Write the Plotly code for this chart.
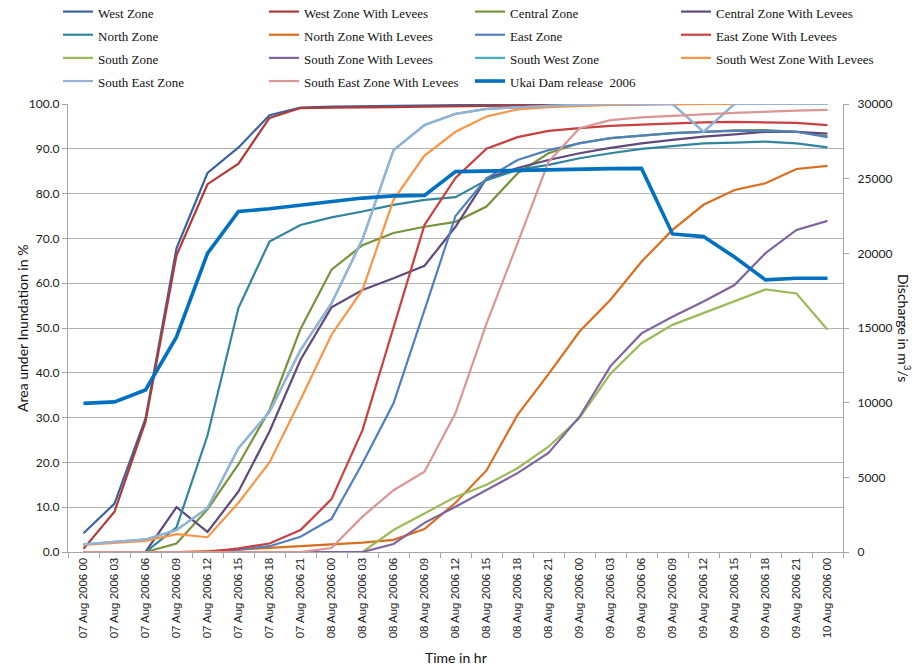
import plotly.graph_objects as go

# Time steps (3-hourly) along the category axis
time_labels = [
    "07 Aug 2006 00", "07 Aug 2006 03", "07 Aug 2006 06", "07 Aug 2006 09",
    "07 Aug 2006 12", "07 Aug 2006 15", "07 Aug 2006 18", "07 Aug 2006 21",
    "08 Aug 2006 00", "08 Aug 2006 03", "08 Aug 2006 06", "08 Aug 2006 09",
    "08 Aug 2006 12", "08 Aug 2006 15", "08 Aug 2006 18", "08 Aug 2006 21",
    "09 Aug 2006 00", "09 Aug 2006 03", "09 Aug 2006 06", "09 Aug 2006 09",
    "09 Aug 2006 12", "09 Aug 2006 15", "09 Aug 2006 18", "09 Aug 2006 21",
    "10 Aug 2006 00",
]

# Area under inundation (%)
west_zone = [4.2, 10.8, 29.8, 67.8, 84.6, 90.3, 97.5, 99.2, 99.4, 99.5, 99.6, 99.7, 99.8,
             99.9, 99.9, 100, 100, 100, 100, 100, 100, 100, 100, 100, 100]
west_levees = [0.7, 9.0, 29.1, 66.2, 82.1, 86.7, 96.9, 99.1, 99.2, 99.2, 99.3, 99.4, 99.5,
               99.6, 99.7, 99.8, 99.8, 99.9, 99.9, 100, 100, 100, 100, 100, 100]
central_zone = [0, 0, 0, 1.9, 9.5, 19.6, 31.7, 49.8, 63.0, 68.5, 71.2, 72.6, 73.7,
                77.1, 84.5, 89.0, 91.3, 92.4, 93.0, 93.5, 93.8, 94.1, 94.2, 93.8, 92.8]
central_levees = [0, 0, 0, 10.0, 4.5, 13.5, 26.9, 42.9, 54.6, 58.5, 61.1, 63.9, 72.6,
                  83.4, 85.7, 87.5, 89.0, 90.2, 91.2, 92.0, 92.7, 93.2, 93.8, 93.8, 93.4]
north_zone = [0, 0, 0, 5.5, 26.0, 54.5, 69.3, 73.0, 74.7, 76.0, 77.5, 78.6, 79.2,
              83.0, 85.3, 86.4, 87.9, 89.0, 90.0, 90.6, 91.2, 91.4, 91.6, 91.2, 90.3]
north_levees = [0, 0, 0, 0, 0.2, 0.5, 0.9, 1.3, 1.7, 2.1, 2.7, 5.1, 11.0,
                18.2, 30.6, 39.7, 49.2, 56.3, 64.8, 71.9, 77.5, 80.8, 82.3, 85.5, 86.2]
east_zone = [0, 0, 0, 0, 0, 0.5, 1.3, 3.4, 7.4, 19.8, 33.2, 54.0, 75.0,
             83.4, 87.5, 89.7, 91.2, 92.4, 93.0, 93.5, 93.8, 94.0, 94.0, 93.8, 92.6]
east_levees = [0, 0, 0, 0, 0, 0.8, 1.9, 4.9, 11.8, 27.2, 50.3, 73.0, 83.5,
               90.0, 92.6, 94.0, 94.6, 95.1, 95.4, 95.7, 95.9, 96.0, 95.9, 95.8, 95.3]
south_zone = [0, 0, 0, 0, 0, 0, 0, 0, 0, 0, 4.9, 8.6, 12.3,
              15.0, 18.7, 23.5, 29.9, 39.8, 46.6, 50.7, 53.3, 55.9, 58.6, 57.7, 49.6]
south_levees = [0, 0, 0, 0, 0, 0, 0, 0, 0, 0, 1.8, 6.5, 10.1,
                13.8, 17.6, 22.1, 30.2, 41.5, 48.8, 52.5, 55.9, 59.6, 66.7, 71.9, 73.9]
south_west_zone = [1.7, 2.2, 2.8, 4.9, 9.8, 23.2, 31.3, 45.1, 55.5, 69.8, 89.7, 95.3, 97.8,
                   98.9, 99.3, 99.6, 99.8, 100, 100, 100, 93.8, 100, 100, 100, 100]
south_west_levees = [1.6, 2.0, 2.5, 4.0, 3.3, 11.0, 20.0, 34.0, 48.5, 58.5, 78.6, 88.5, 93.8,
                     97.2, 98.8, 99.3, 99.6, 99.8, 100, 100, 100, 100, 100, 100, 100]
south_east_zone = [1.7, 2.2, 2.8, 4.9, 9.8, 23.2, 31.3, 45.1, 55.5, 69.8, 89.7, 95.3, 97.8,
                   98.9, 99.3, 99.6, 99.8, 100, 100, 100, 93.8, 100, 100, 100, 100]
south_east_levees = [0, 0, 0, 0, 0, 0, 0, 0, 0.9, 7.9, 13.8, 17.9, 31.0,
                     51.0, 68.9, 87.1, 94.6, 96.4, 97.0, 97.4, 97.7, 98.0, 98.3, 98.5, 98.7]

# Ukai dam release (m3/s), right axis
ukai_release = [9950, 10050, 10850, 14400, 20000, 22800, 22980, 23220, 23500, 23700, 23850,
                23880, 25470, 25520, 25560, 25600, 25640, 25670, 25690, 21300, 21120,
                19750, 18220, 18330, 18330]

zone_names = [
    "West Zone", "West Zone With Levees", "Central Zone", "Central Zone With Levees",
    "North Zone", "North Zone With Levees", "East Zone", "East Zone With Levees",
    "South Zone", "South Zone With Levees", "South West Zone", "South West Zone With Levees",
    "South East Zone", "South East Zone With Levees",
]
zone_series = [
    west_zone, west_levees, central_zone, central_levees,
    north_zone, north_levees, east_zone, east_levees,
    south_zone, south_levees, south_west_zone, south_west_levees,
    south_east_zone, south_east_levees,
]
zone_colors = [
    "#3C63A0", "#B03A38", "#77933C", "#604A7B",
    "#31859C", "#DA6E1E", "#4F81BD", "#C8403F",
    "#9BBB59", "#8064A2", "#4BACC6", "#F79646",
    "#95B3D7", "#D99694",
]
ukai_name = "Ukai Dam release  2006"
ukai_color = "#0070C0"


def legend_label(text):
    return f"<span style='font-size:13px'>{text}</span>"


fig = go.Figure()
for name, values, color in zip(zone_names, zone_series, zone_colors):
    fig.add_trace(go.Scatter(
        x=time_labels, y=values, name=legend_label(name), mode="lines",
        line=dict(color=color, width=2.2), yaxis="y",
    ))

fig.add_trace(go.Scatter(
    x=time_labels, y=ukai_release, name=legend_label(ukai_name), mode="lines",
    line=dict(color=ukai_color, width=3.6), yaxis="y2",
))

axis_grey = "#A6A6A6"
tick_font = dict(family="Lato, Open Sans, sans-serif", size=12, color="#1a1a1a")

fig.update_layout(
    width=917, height=672,
    margin=dict(l=68, r=74, t=104, b=120, autoexpand=False),
    paper_bgcolor="white", plot_bgcolor="white",
    showlegend=True,
    legend=dict(
        orientation="h", x=-0.0129, xanchor="left", y=1.2433, yanchor="top",
        entrywidth=161, entrywidthmode="pixels",
        font=dict(family="Liberation Serif, Times New Roman, serif", size=15.5, color="#111"),
        bgcolor="rgba(0,0,0,0)", borderwidth=0, itemwidth=30,
    ),
    xaxis=dict(
        type="category", categoryorder="array", categoryarray=time_labels,
        range=[-0.5, len(time_labels) - 0.5],
        tickangle=-90, tickson="boundaries", ticks="outside", ticklen=5,
        tickcolor=axis_grey, showgrid=False, showline=True, linecolor=axis_grey,
        linewidth=1.3, zeroline=False,
        tickfont=dict(family="Liberation Sans Narrow, Arial Narrow, Liberation Sans, sans-serif",
                      size=11.5, color="#1a1a1a"),
    ),
    yaxis=dict(
        range=[0, 100], dtick=10, tick0=0, tickformat=".1f",
        ticks="outside", ticklen=5, tickcolor=axis_grey,
        showline=True, linecolor=axis_grey, linewidth=1.3,
        showgrid=True, gridcolor="#B2B2B2", gridwidth=1.4, zeroline=False,
        tickfont=tick_font,
    ),
    yaxis2=dict(
        range=[0, 30000], dtick=5000, tick0=0, tickformat="d",
        overlaying="y", side="right",
        ticks="outside", ticklen=5, tickcolor=axis_grey,
        showline=True, linecolor=axis_grey, linewidth=1.3,
        showgrid=False, zeroline=False, ticklabelstandoff=6,
        tickfont=tick_font,
    ),
    annotations=[
        dict(text="Time in hr", xref="paper", yref="paper", x=0.5, y=-0.2366,
             xanchor="center", yanchor="middle", showarrow=False,
             font=dict(family="Lato, Open Sans, sans-serif", size=14, color="#111")),
        dict(text="Area under Inundation in %", xref="paper", yref="paper",
             x=-0.0594, y=0.5, textangle=-90, xanchor="center", yanchor="middle",
             showarrow=False,
             font=dict(family="Lato, Open Sans, sans-serif", size=14, color="#111")),
        dict(text="Discharge in m<sup>3</sup>/s", xref="paper", yref="paper",
             x=1.08, y=0.5, textangle=90, xanchor="center", yanchor="middle",
             showarrow=False,
             font=dict(family="Lato, Open Sans, sans-serif", size=14, color="#111")),
    ],
)

fig.write_html("out.html")
